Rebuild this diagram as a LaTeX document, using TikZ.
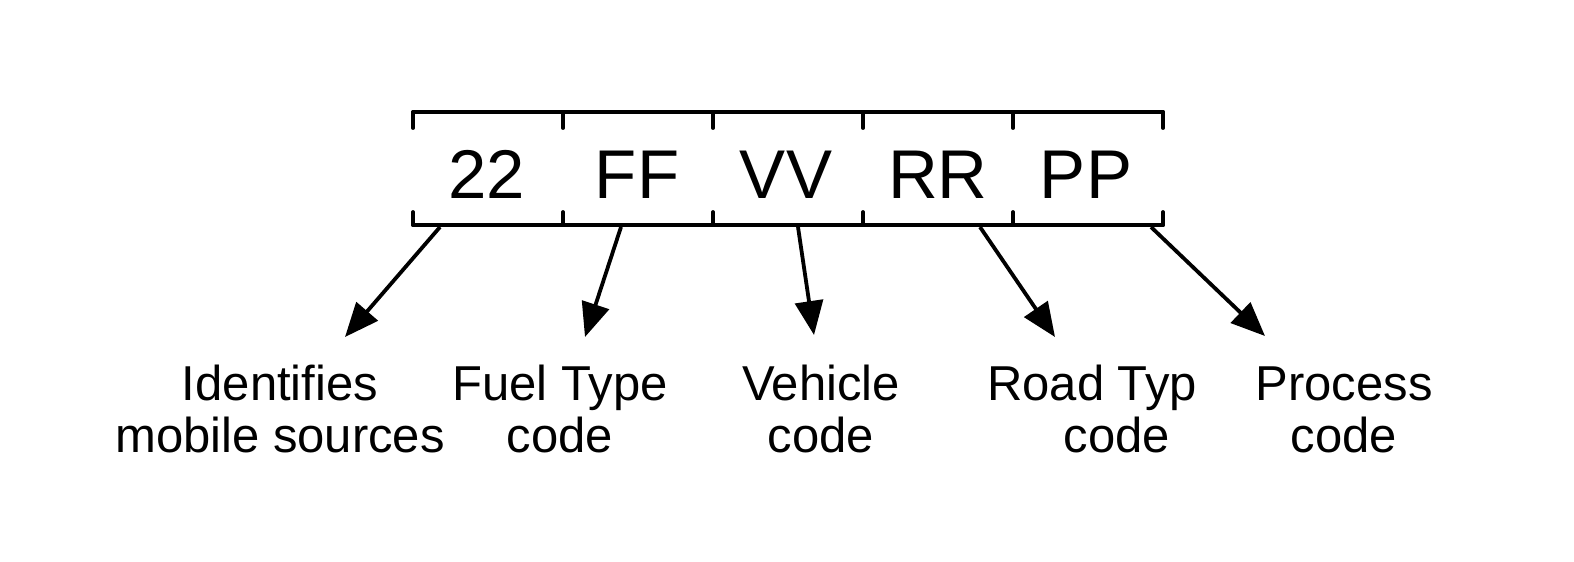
\documentclass[tikz,border=0pt]{standalone}
\usepackage{fontspec}
\setmainfont{Liberation Sans}
\usetikzlibrary{arrows.meta}
\begin{document}
\begin{tikzpicture}[x=1pt,y=-1pt,
  frame/.style={line width=3.8pt,line cap=round,line join=round},
  field/.style={anchor=base,inner sep=0pt,font=\fontsize{69}{83}\selectfont},
  label/.style={anchor=base,inner sep=0pt,align=center,font=\fontsize{49}{52}\selectfont},
  arr/.style={line width=3.8pt,-{Triangle[length=34pt,width=28pt]}}]
\useasboundingbox (0,0) rectangle (1574,562);
% frame
\draw[frame] (413,112) -- (1163,112);
\draw[frame] (413,225) -- (1163,225);
\foreach \x in {413,563,713,863,1013,1163}{
  \draw[frame] (\x,112) -- (\x,128);
  \draw[frame] (\x,212) -- (\x,225);
}
% fields
\node[field] (f1) at (487,198) {22};
\node[field] (f2) at (637,198) {FF};
\node[field] (f3) at (786,198) {VV};
\node[field] (f4) at (938,198) {RR};
\node[field] (f5) at (1086,198) {PP};
% labels (anchor base = last line baseline)
\node[label] (l1) at (280,452) {Identifies\\mobile sources};
\node[label] (l2) at (560,452) {Fuel Type\\code};
\node[label] (l3) at (821,452) {Vehicle\\code};
\node[label] (l4a) at (1092,400) {Road Typ};
\node[label] (l4b) at (1117,452) {code};
\node[label] (l5) at (1344,452) {Process\\code};
% arrow ends
\coordinate (s1) at (440,227);
\coordinate (e1) at (345,337);
\coordinate (s2) at (621,227);
\coordinate (e2) at (585,337);
\coordinate (s3) at (798,227);
\coordinate (e3) at (814,335);
\coordinate (s4) at (980,227);
\coordinate (e4) at (1055,337);
\coordinate (s5) at (1151,227);
\coordinate (e5) at (1265,336);
\draw[arr] (s1) -- (e1);
\draw[arr] (s2) -- (e2);
\draw[arr] (s3) -- (e3);
\draw[arr] (s4) -- (e4);
\draw[arr] (s5) -- (e5);
\end{tikzpicture}
\end{document}
